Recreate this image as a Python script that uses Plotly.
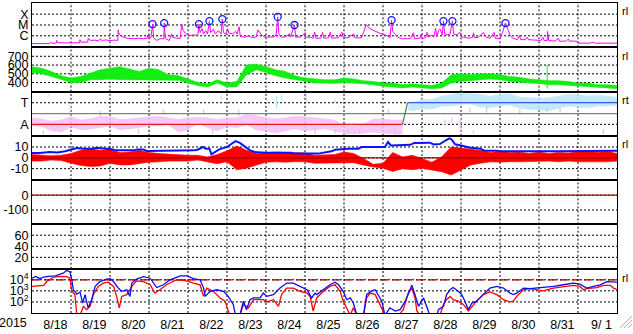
import plotly.graph_objects as go
from plotly.subplots import make_subplots

# ---------------- data (time in days from 2015-08-18 00UT) ----------------
day_labels = ["8/18", "8/19", "8/20", "8/21", "8/22", "8/23", "8/24", "8/25",
              "8/26", "8/27", "8/28", "8/29", "8/30", "8/31", "9/ 1"]

# GOES X-ray flux (W/m2)
xray = [(0.00, 1.9e-7), (0.30, 1.8e-7), (0.45, 1.9e-7), (0.46, 2.3e-7), (0.48, 2.6e-7), (0.50, 2.1e-7),
        (0.62, 2.1e-7), (0.63, 3.7e-7), (0.66, 2.3e-7), (0.90, 2.2e-7), (1.10, 2.3e-7), (1.22, 2.3e-7),
        (1.23, 4.4e-7), (1.26, 2.6e-7), (1.43, 2.6e-7), (1.44, 6.0e-7), (1.50, 3.7e-7), (1.60, 4.0e-7),
        (1.70, 3.4e-7), (1.75, 5.0e-7), (1.80, 3.7e-7), (1.90, 4.2e-7), (2.00, 3.5e-7), (2.10, 4.0e-7),
        (2.20, 3.8e-7), (2.21, 3.5e-6), (2.23, 1.5e-6), (2.30, 8.7e-7), (2.43, 6.0e-7), (2.60, 5.4e-7),
        (2.75, 6.0e-7), (2.85, 5.4e-7), (2.95, 6.0e-7), (2.97, 1.2e-6), (2.99, 6.0e-7), (3.05, 6.6e-7),
        (3.09, 1.2e-5), (3.12, 6.0e-7), (3.20, 3.7e-7), (3.28, 5.4e-7), (3.38, 5.4e-7), (3.39, 1.5e-5),
        (3.42, 5.4e-7), (3.52, 3.7e-7), (3.58, 1.5e-6), (3.60, 7.4e-7), (3.70, 6.0e-7), (3.80, 6.0e-7),
        (3.84, 1.2e-5), (3.88, 3.0e-6), (3.95, 1.5e-6), (4.05, 1.07e-6), (4.15, 1.2e-6), (4.25, 1.07e-6),
        (4.28, 1.2e-5), (4.31, 2.0e-6), (4.36, 4.6e-6), (4.40, 1.5e-6), (4.45, 3.0e-6), (4.50, 1.5e-6),
        (4.55, 2.3e-5), (4.58, 2.0e-6), (4.65, 4.0e-6), (4.70, 1.5e-6), (4.78, 3.0e-6), (4.85, 1.5e-6),
        (4.88, 3.5e-5), (4.91, 2.0e-6), (4.97, 1.5e-6), (5.02, 4.3e-6), (5.05, 1.8e-6), (5.15, 1.5e-6),
        (5.22, 2.6e-6), (5.26, 1.5e-6), (5.31, 6.9e-6), (5.34, 9.0e-7), (5.45, 7.4e-7), (5.55, 1.0e-6),
        (5.65, 6.6e-7), (5.75, 8.0e-7), (5.79, 3.5e-6), (5.90, 1.07e-6), (5.97, 7.4e-7), (6.10, 7.4e-7),
        (6.20, 8.0e-7), (6.26, 1.2e-6), (6.30, 5.6e-5), (6.33, 1.5e-6), (6.40, 7.4e-7), (6.50, 8.0e-7),
        (6.60, 1.5e-6), (6.63, 7.4e-7), (6.73, 1.0e-5), (6.76, 7.4e-7), (6.90, 8.0e-7), (7.00, 2.0e-6),
        (7.02, 7.4e-7), (7.15, 7.4e-7), (7.21, 6.0e-7), (7.25, 2.1e-6), (7.28, 6.0e-7), (7.40, 6.0e-7),
        (7.45, 2.1e-6), (7.48, 6.0e-7), (7.60, 6.6e-7), (7.65, 2.1e-6), (7.68, 6.0e-7), (7.85, 6.6e-7),
        (7.95, 2.1e-6), (7.98, 6.6e-7), (8.10, 6.6e-7), (8.25, 1.5e-6), (8.28, 6.6e-7), (8.45, 6.6e-7),
        (8.57, 1.07e-5), (8.65, 4.9e-6), (8.80, 2.6e-6), (8.95, 1.5e-6), (9.10, 1.07e-6), (9.18, 6.6e-7),
        (9.22, 2.8e-5), (9.25, 2.5e-6), (9.30, 1.5e-6), (9.38, 7.4e-7), (9.48, 5.4e-7), (9.70, 5.4e-7),
        (9.78, 1.9e-6), (9.81, 5.4e-7), (9.95, 6.0e-7), (9.98, 1.5e-6), (10.01, 5.4e-7), (10.10, 7.4e-7),
        (10.13, 2.1e-6), (10.16, 7.4e-7), (10.25, 1.2e-6), (10.30, 7.4e-7), (10.35, 4.9e-6), (10.38, 8.0e-7),
        (10.42, 3.0e-6), (10.46, 4.3e-6), (10.52, 1.2e-6), (10.55, 2.3e-5), (10.58, 1.5e-6), (10.65, 1.2e-6),
        (10.72, 1.5e-6), (10.78, 2.3e-5), (10.81, 1.5e-6), (10.90, 1.2e-6), (10.97, 2.1e-6), (11.00, 9.0e-7),
        (11.06, 7.4e-7), (11.20, 6.0e-7), (11.30, 7.0e-7), (11.32, 1.9e-6), (11.35, 6.6e-7), (11.45, 7.4e-7),
        (11.57, 2.1e-6), (11.65, 7.4e-7), (11.75, 6.0e-7), (11.85, 2.1e-6), (11.88, 6.0e-7), (12.00, 5.4e-7),
        (12.08, 3.0e-6), (12.14, 1.5e-5), (12.20, 4.3e-6), (12.26, 1.07e-6), (12.33, 6.0e-7), (12.45, 4.4e-7),
        (12.50, 1.07e-6), (12.53, 4.4e-7), (12.65, 4.4e-7), (12.70, 7.4e-7), (12.73, 4.4e-7), (12.90, 3.7e-7),
        (13.05, 3.7e-7), (13.10, 7.4e-7), (13.13, 3.7e-7), (13.21, 3.7e-7), (13.22, 2.5e-6), (13.25, 3.7e-7),
        (13.40, 3.2e-7), (13.50, 6.0e-7), (13.52, 3.2e-7), (13.70, 3.2e-7), (13.75, 5.0e-7), (13.78, 3.2e-7),
        (13.97, 3.2e-7), (14.00, 2.1e-7), (14.30, 2.1e-7), (14.40, 2.6e-7), (14.42, 2.1e-7), (14.70, 2.1e-7),
        (15.00, 2.1e-7)]

# M-class flare peaks (circled)
flares = [(3.09, 1.2e-5), (3.39, 1.5e-5), (4.28, 1.2e-5), (4.55, 2.3e-5), (4.88, 3.5e-5),
          (6.30, 5.6e-5), (6.73, 1.0e-5), (9.22, 2.8e-5), (10.55, 2.3e-5), (10.78, 2.3e-5), (12.14, 1.5e-5)]

# solar wind speed envelope (km/s), every 6 h
step_t = [i * 0.25 for i in range(61)]
speed_hi = [580, 564, 526, 478, 451, 470, 508, 545, 564, 582, 555, 526, 564, 545, 489, 480, 440, 402, 385, 432,
            395, 413, 601, 610, 582, 545, 526, 478, 451, 440, 432, 432, 451, 440, 421, 413, 395, 395, 376, 385,
            376, 365, 395, 489, 500, 489, 500, 500, 489, 470, 460, 440, 432, 421, 421, 413, 395, 395, 376, 376, 365]
speed_lo = [515, 500, 470, 432, 400, 400, 432, 432, 440, 432, 432, 432, 425, 432, 432, 425, 395, 365, 350, 395,
            350, 350, 489, 545, 515, 478, 451, 432, 413, 395, 395, 388, 400, 395, 385, 376, 357, 350, 339, 350,
            339, 328, 339, 395, 413, 425, 432, 440, 432, 413, 400, 395, 388, 376, 376, 370, 357, 350, 346, 339, 328]
speed_spike = (13.21, 600, 330)

# IMF sector (T = +1, A = -1)
sector_t = [0.0, 9.5, 9.63, 15.0]
sector_v = [-1, -1, 1, 1]
sector_boundary = 0
away_t = [i * 0.25 for i in range(39)]
away_hi = [-0.4, -0.5, -0.7, -0.6, -0.3, -0.6, -0.5, -0.25, -0.3, -0.55, -0.5, -0.4, -0.3, -0.25, -0.4, -0.55,
           -0.4, -0.35, -0.4, -0.55, -0.4, -0.4, -0.1, -0.2, -0.4, -0.5, -0.4, -0.25, -0.3, -0.4, -0.45, -0.6,
           -1.1, -1.15, -1.0, -0.5, -0.5, -0.6, -0.6]
away_lo = [-1.1, -1.2, -1.6, -1.7, -1.2, -1.5, -1.4, -1.3, -1.1, -1.5, -1.4, -1.3, -1.1, -1.15, -1.0, -1.7,
           -1.5, -0.85, -1.3, -1.6, -1.2, -1.3, -1.0, -1.5, -1.6, -1.8, -1.6, -1.4, -1.6, -1.5, -1.4, -1.6,
           -1.8, -1.9, -1.8, -1.7, -1.8, -1.9, -1.9]
toward_t = [9.65, 9.75, 10.0, 10.25, 10.5, 10.75, 11.0, 11.25, 11.5, 11.75, 12.0, 12.25, 12.5, 12.75,
            13.0, 13.25, 13.5, 13.75, 14.0, 14.25, 14.5, 14.75, 15.0]
toward_hi = [1.0, 1.0, 1.3, 1.3, 1.6, 1.75, 1.9, 1.8, 1.75, 1.6, 1.75, 1.8, 1.5, 1.45, 1.4, 1.45, 1.6, 1.75,
             1.75, 1.6, 1.7, 1.6, 1.5]
toward_lo = [0.3, 0.25, 0.45, 0.4, 0.7, 0.7, 0.85, 0.9, 0.6, 0.55, 0.7, 0.8, 0.5, 0.4, 0.35, 0.25, 0.5, 0.7,
             0.6, 0.55, 0.7, 0.7, 0.8]
toward_strokes = [(0.42, 1.76, 1.55), (0.98, 0.7, 0.24), (4.86, 1.76, 1.15), (6.27, 1.6, 0.39),
                  (6.4, 1.76, 1.15), (7.04, 1.76, 1.0), (7.77, 1.3, 1.0)]
away_strokes = [(10.59, -0.52, -1.12), (10.76, -0.37, -0.82), (10.98, -0.37, -1.73), (11.32, -1.58, -1.88)]
gray_strokes = [(0.29, -1.58, -1.88), (0.98, 0.1, -0.2), (1.75, 0.24, -0.22), (2.73, -1.43, -1.88),
                (3.37, 0.39, -0.06), (4.4, 0.39, -0.06), (4.63, -1.43, -1.88), (5.3, 0.39, -0.22),
                (7.26, -1.28, -1.88), (7.77, -1.43, -1.88), (8.1, -1.5, -1.88), (8.4, -1.43, -1.88),
                (9.14, 0.39, -0.06), (9.3, -1.28, -1.88), (11.23, 0.54, 0.1), (11.66, 0.7, 0.1),
                (12.51, 0.39, -0.06), (13.2, 0.54, 0.1), (13.54, 0.54, 0.1), (14.65, -1.43, -1.88)]

# IMF Bz envelope and Bt (nT)
bz_hi = [3, 2.5, 2, 2.5, 4, 7, 8.4, 7, 8, 5, 5.4, 7, 5, 4, 3.5, 2.5, 2.4, 2.4, 0.8, 3,
         6.5, 11, 7, 4, 5, 5.4, 5, 5, 4.5, 2.4, 2.4, 3, 5.4, 4, -0.6, -6, -5, 5, 0.8, 2.4,
         -0.6, -4, 0.8, 10, 9, 8, 6.9, 5, 6, 5, 5.4, 4, 5.4, 4, 5, 4.5, 5.4, 6.9, 5, 6, 4]
bz_lo = [-3, -3, -2, -2.5, -5, -7, -8, -7.5, -5, -6.5, -6.5, -5, -4, -3.7, -3, -3, -3, -2, -4, -5.5,
         -3.5, -11, -9.5, -6.5, -4, -3.7, -4, -3.5, -3.7, -5, -5, -5, -5, -4.5, -6.7, -8.5, -9.5, -12.5, -10, -11,
         -9.7, -11, -12.8, -15.8, -11, -6.7, -5, -3.7, -4, -3.5, -3.7, -3.5, -3.7, -3, -3.7, -3, -3.7, -3.7, -3.5, -3.7, -3]
bt = [(0.0, 4.5), (0.2, 4.5), (0.45, 5.4), (0.65, 5.0), (0.85, 6.0), (1.0, 7.5), (1.15, 9.0), (1.35, 8.5),
      (1.55, 8.5), (1.65, 9.4), (1.9, 8.7), (2.05, 8.0), (2.15, 6.9), (2.6, 6.9), (2.7, 7.8), (2.85, 7.8),
      (2.95, 6.3), (3.6, 6.3), (3.65, 6.9), (4.15, 6.9), (4.25, 7.5), (4.38, 10.0), (4.45, 8.5), (4.55, 8.5),
      (4.6, 3.3), (4.7, 5.5), (4.8, 7.8), (4.9, 9.0), (5.0, 10.0), (5.12, 13.0), (5.22, 15.5), (5.33, 13.8),
      (5.46, 10.0), (5.59, 6.9), (5.72, 5.4), (5.98, 4.8), (6.66, 4.8), (6.7, 3.9), (7.34, 3.9), (7.5, 5.0),
      (7.68, 6.0), (7.77, 7.5), (8.1, 8.5), (8.37, 8.5), (8.45, 10.0), (9.05, 10.0), (9.13, 14.6), (9.2, 11.5),
      (9.7, 12.0), (9.8, 13.8), (10.2, 14.0), (10.3, 12.4), (10.46, 12.8), (10.6, 16.0), (10.7, 18.0),
      (10.76, 17.0), (10.85, 12.5), (11.06, 11.0), (11.2, 9.5), (11.5, 8.5), (11.6, 6.6), (11.9, 6.6),
      (12.0, 6.0), (13.5, 6.0), (15.0, 6.6)]
bz_zero = 0

# Dst (nT): reference level only
dst_zero = 0

# >2 MeV electron flux, log10 values
e_blue_log = [(0.0, 4.14), (0.1, 4.3), (0.2, 4.1), (0.3, 4.25), (0.42, 4.3), (0.6, 4.35), (0.8, 4.6), (0.89, 4.85),
              (0.97, 4.73), (1.02, 4.0), (1.06, 3.1), (1.15, 2.7), (1.23, 2.9), (1.3, 1.9), (1.36, 2.66), (1.44, 1.47),
              (1.53, 2.2), (1.62, 3.4), (1.74, 3.84), (1.91, 4.06), (2.0, 4.1), (2.09, 3.84), (2.21, 3.25), (2.3, 2.96),
              (2.43, 3.1), (2.51, 2.5), (2.56, 3.7), (2.68, 4.06), (2.86, 4.29), (3.03, 4.14), (3.2, 3.3), (3.37, 3.55),
              (3.54, 4.0), (3.8, 4.36), (3.97, 4.36), (4.14, 4.1), (4.31, 4.0), (4.4, 3.25), (4.44, 2.5), (4.57, 2.96),
              (4.74, 3.1), (4.91, 2.96), (5.03, 2.5), (5.16, 1.77), (5.22, 0.8), (5.33, 0.8), (5.42, 2.07), (5.5, 1.3),
              (5.59, 2.2), (5.68, 2.36), (5.85, 2.36), (5.93, 2.8), (6.02, 2.5), (6.19, 2.66), (6.36, 3.25), (6.53, 3.7),
              (6.7, 3.7), (6.87, 3.4), (7.05, 3.1), (7.17, 2.36), (7.26, 2.8), (7.3, 2.66), (7.47, 3.1), (7.64, 3.55),
              (7.77, 3.78), (7.86, 3.55), (7.98, 2.96), (8.07, 2.2), (8.16, 2.36), (8.24, 1.9), (8.33, 0.8), (8.5, 0.8),
              (8.58, 2.66), (8.71, 3.0), (8.8, 3.1), (8.88, 2.66), (8.97, 2.07), (9.05, 0.8), (9.18, 1.47), (9.31, 1.18),
              (9.44, 1.3), (9.57, 2.07), (9.65, 2.8), (9.74, 3.5), (9.82, 2.66), (9.91, 1.6), (10.04, 2.36), (10.12, 1.6),
              (10.2, 0.8), (10.38, 0.8), (10.42, 1.3), (10.55, 1.6), (10.63, 2.66), (10.72, 3.1), (10.8, 3.3),
              (10.93, 2.96), (11.02, 2.66), (11.1, 2.07), (11.19, 1.3), (11.28, 1.9), (11.4, 2.07), (11.57, 2.66),
              (11.74, 3.25), (11.92, 3.4), (12.09, 3.25), (12.26, 2.8), (12.34, 2.66), (12.43, 2.8), (12.6, 3.25),
              (12.77, 3.2), (13.11, 3.3), (13.37, 3.4), (13.63, 3.55), (13.88, 3.7), (14.05, 3.6), (14.14, 3.4),
              (14.22, 3.25), (14.4, 3.4), (14.57, 3.55), (14.74, 3.84), (14.91, 3.84), (15.0, 3.78)]
e_red_log = [(0.0, 3.4), (0.15, 3.45), (0.3, 3.5), (0.38, 3.84), (0.55, 4.25), (0.75, 4.3), (0.89, 4.29), (0.97, 4.14),
             (1.02, 2.96), (1.1, 2.66), (1.15, 0.8), (1.23, 0.8), (1.32, 1.6), (1.4, 1.3), (1.49, 1.6), (1.57, 2.66),
             (1.7, 3.4), (1.83, 3.7), (1.96, 3.78), (2.09, 3.4), (2.17, 2.5), (2.24, 1.47), (2.3, 2.5), (2.43, 2.66),
             (2.56, 3.4), (2.68, 3.9), (2.86, 3.84), (3.03, 3.55), (3.15, 2.8), (3.28, 3.1), (3.45, 3.55), (3.71, 4.0),
             (3.97, 3.9), (4.14, 3.7), (4.31, 3.55), (4.4, 2.5), (4.48, 3.25), (4.65, 2.96), (4.82, 2.36), (4.95, 2.07),
             (5.03, 1.18), (5.07, 0.8), (5.33, 0.8), (5.42, 1.77), (5.55, 1.47), (5.68, 2.2), (5.93, 2.2), (6.02, 2.0),
             (6.19, 2.2), (6.32, 1.6), (6.4, 2.66), (6.53, 3.25), (6.7, 3.25), (6.87, 2.96), (7.05, 2.8), (7.13, 2.5),
             (7.21, 1.18), (7.3, 2.36), (7.47, 2.96), (7.64, 3.4), (7.77, 3.55), (7.9, 2.96), (7.98, 2.07), (8.07, 1.47),
             (8.16, 0.8), (8.24, 1.47), (8.33, 0.8), (8.5, 0.8), (8.58, 2.36), (8.67, 2.8), (8.8, 2.66), (8.88, 2.07),
             (8.97, 1.3), (9.05, 0.8), (9.4, 0.8), (9.52, 1.3), (9.65, 2.8), (9.74, 3.25), (9.82, 2.36), (9.87, 1.18),
             (9.95, 0.8), (10.46, 0.8), (10.55, 1.77), (10.63, 2.2), (10.72, 2.5), (10.8, 2.2), (10.93, 2.07),
             (11.06, 1.77), (11.19, 1.18), (11.32, 1.77), (11.4, 2.07), (11.57, 2.66), (11.74, 2.9), (11.92, 2.66),
             (12.09, 2.2), (12.26, 2.0), (12.34, 2.07), (12.43, 2.5), (12.6, 3.1), (12.77, 3.2), (12.94, 3.1),
             (13.11, 3.0), (13.37, 3.25), (13.63, 3.4), (13.88, 3.5), (14.05, 3.4), (14.14, 3.1), (14.22, 3.2),
             (14.48, 3.3), (14.66, 3.5), (14.83, 3.5), (14.91, 3.25), (15.0, 3.1)]
e_alert = 1e4

# ---------------- figure ----------------
FONT = "Liberation Sans, Arial, sans-serif"
DOT = "2px,2px"
fig = make_subplots(rows=7, cols=1, shared_xaxes=True, vertical_spacing=0)


def line(x, y, color, width, row, dash=None, **kw):
    fig.add_trace(go.Scatter(x=x, y=y, mode="lines", line=dict(color=color, width=width, dash=dash),
                             showlegend=False, hoverinfo="skip", **kw), row=row, col=1)


def band(x, lo, hi, color, fill, row):
    line(x, lo, color, 0.6, row)
    line(x, hi, color, 0.6, row, fill="tonexty", fillcolor=fill)


def strokes(items, color, row):
    xs, ys = [], []
    for t, a, b in items:
        xs += [t, t, None]
        ys += [a, b, None]
    line(xs, ys, color, 1.3, row)


tickfont = dict(family=FONT, size=12.5, color="black")
yspecs = [
    dict(type="log", range=[-7.06, -2.97], tickvals=[1e-4, 1e-5, 1e-6], ticktext=["X", "M", "C"]),
    dict(range=[297, 803], tickvals=[700, 600, 500, 400], ticktext=["700", "600", "500", "400"]),
    dict(range=[-2.06, 2.03], tickvals=[1, -1], ticktext=["T", "A"]),
    dict(range=[-20.6, 20.3], tickvals=[10, 0, -10], ticktext=["10", "0", "-10"]),
    dict(range=[-198, 102], tickvals=[0, -100], ticktext=["0", "-100"]),
    dict(range=[-0.5, 79.5], tickvals=[60, 40, 20], ticktext=["60", "40", "20"]),
    dict(type="log", range=[1, 5], tickvals=[1e4, 1e3, 1e2],
         ticktext=["10<sup>4</sup>", "10<sup>3</sup>", "10<sup>2</sup>"]),
]

# dotted horizontal grid at each labelled level (drawn first, under the data)
for i, spec in enumerate(yspecs, start=1):
    for v in spec["tickvals"]:
        line([0, 15], [v, v], "#000000", 1, i, dash=DOT)
    # dotted day boundaries
    ylo, yhi = spec["range"]
    if spec.get("type") == "log":
        ylo, yhi = 10 ** ylo, 10 ** yhi
    xs, ys = [], []
    for d in range(1, 15):
        xs += [d, d, None]
        ys += [ylo, yhi, None]
    line(xs, ys, "#000000", 1, i, dash=DOT)

# row 1: X-ray
line([p[0] for p in xray], [p[1] for p in xray], "#FF00FF", 1, 1)
fig.add_trace(go.Scatter(x=[p[0] for p in flares], y=[p[1] for p in flares], mode="markers",
                         marker=dict(symbol="circle-open", size=7, color="#1414FF", line=dict(width=1.3)),
                         showlegend=False, hoverinfo="skip"), row=1, col=1)

# row 2: speed
band(step_t, speed_lo, speed_hi, "#12EE12", "#12EE12", 2)
line([speed_spike[0]] * 2, [speed_spike[1], speed_spike[2]], "#12EE12", 1, 2)

# row 3: sector
band(away_t, away_lo, away_hi, "#F6BEF6", "rgba(246,190,246,0.85)", 3)
band(toward_t, toward_lo, toward_hi, "#B8E6FA", "rgba(184,230,250,0.85)", 3)
strokes(gray_strokes, "#CFCFCF", 3)
strokes(toward_strokes, "#B8E6FA", 3)
strokes(away_strokes, "#F6BEF6", 3)
line([0, 15], [sector_boundary] * 2, "#808080", 1.3, 3)
line(sector_t[0:2], sector_v[0:2], "#DD2222", 1.2, 3)
line(sector_t[1:3], sector_v[1:3], "#3C8C3C", 1.2, 3)
line(sector_t[2:4], sector_v[2:4], "#3A5AE6", 1.2, 3)

# row 4: IMF
band(step_t, bz_lo, bz_hi, "#FF0000", "#FF0000", 4)
line([0, 15], [bz_zero] * 2, "#A00000", 1.3, 4)
line([p[0] for p in bt], [p[1] for p in bt], "#0A14FF", 2, 4)

# row 5: Dst
line([0, 15], [dst_zero] * 2, "#B00000", 1.3, 5)

# row 7: electrons
line([0, 15], [e_alert] * 2, "#B00000", 1.3, 7, dash="8px,4px")
line([p[0] for p in e_red_log], [10 ** p[1] for p in e_red_log], "#FF0000", 1.3, 7)
line([p[0] for p in e_blue_log], [10 ** p[1] for p in e_blue_log], "#0A0AFF", 1.3, 7)

# ---------------- axes ----------------
common_y = dict(showline=True, mirror=True, linecolor="black", linewidth=1, showgrid=False,
                zeroline=False, ticks="", tickfont=tickfont, tickmode="array")
for i, spec in enumerate(yspecs, start=1):
    fig.update_yaxes(row=i, col=1, **common_y, **spec)

for i in range(1, 8):
    fig.update_xaxes(row=i, col=1, range=[0, 15], showline=True, mirror=True, linecolor="black",
                     linewidth=1, showgrid=False, zeroline=False, ticks="",
                     tickmode="array", tickvals=[d + 0.6 for d in range(15)], ticktext=day_labels,
                     showticklabels=(i == 7), tickfont=tickfont)

# ---------------- annotations / decorations ----------------
W0, W1, H0, H1 = 32, 617, 2, 317


def px(x):
    return (x - W0) / (W1 - W0)


def py(y):
    return (H1 - y) / (H1 - H0)


ann = [dict(text="2015", x=px(28.5), y=py(327), xanchor="right", yanchor="middle",
            font=dict(family=FONT, size=12.5, color="black"))]
for txt, yy in [("rl", 10), ("rl", 56), ("rt", 101), ("rl", 145.5), ("rl", 281)]:
    ann.append(dict(text=txt, x=px(619.5), y=py(yy), xanchor="left", yanchor="middle",
                    font=dict(family=FONT, size=11, color="black")))
for a in ann:
    a.update(xref="paper", yref="paper", showarrow=False)

shapes = []
for (x0, y0, x1, y1) in [(632, 320, 620, 332), (632, 324, 624, 332), (632, 328, 628, 332)]:
    shapes.append(dict(type="line", xref="paper", yref="paper", x0=px(x0), y0=py(y0), x1=px(x1), y1=py(y1),
                       line=dict(color="#A8A8A8", width=1)))

fig.update_layout(width=633, height=334, margin=dict(l=32, r=16, t=2, b=17),
                  paper_bgcolor="white", plot_bgcolor="white", annotations=ann, shapes=shapes,
                  showlegend=False, font=dict(family=FONT, color="black"))

fig.write_html("out.html", config={"displayModeBar": False})
